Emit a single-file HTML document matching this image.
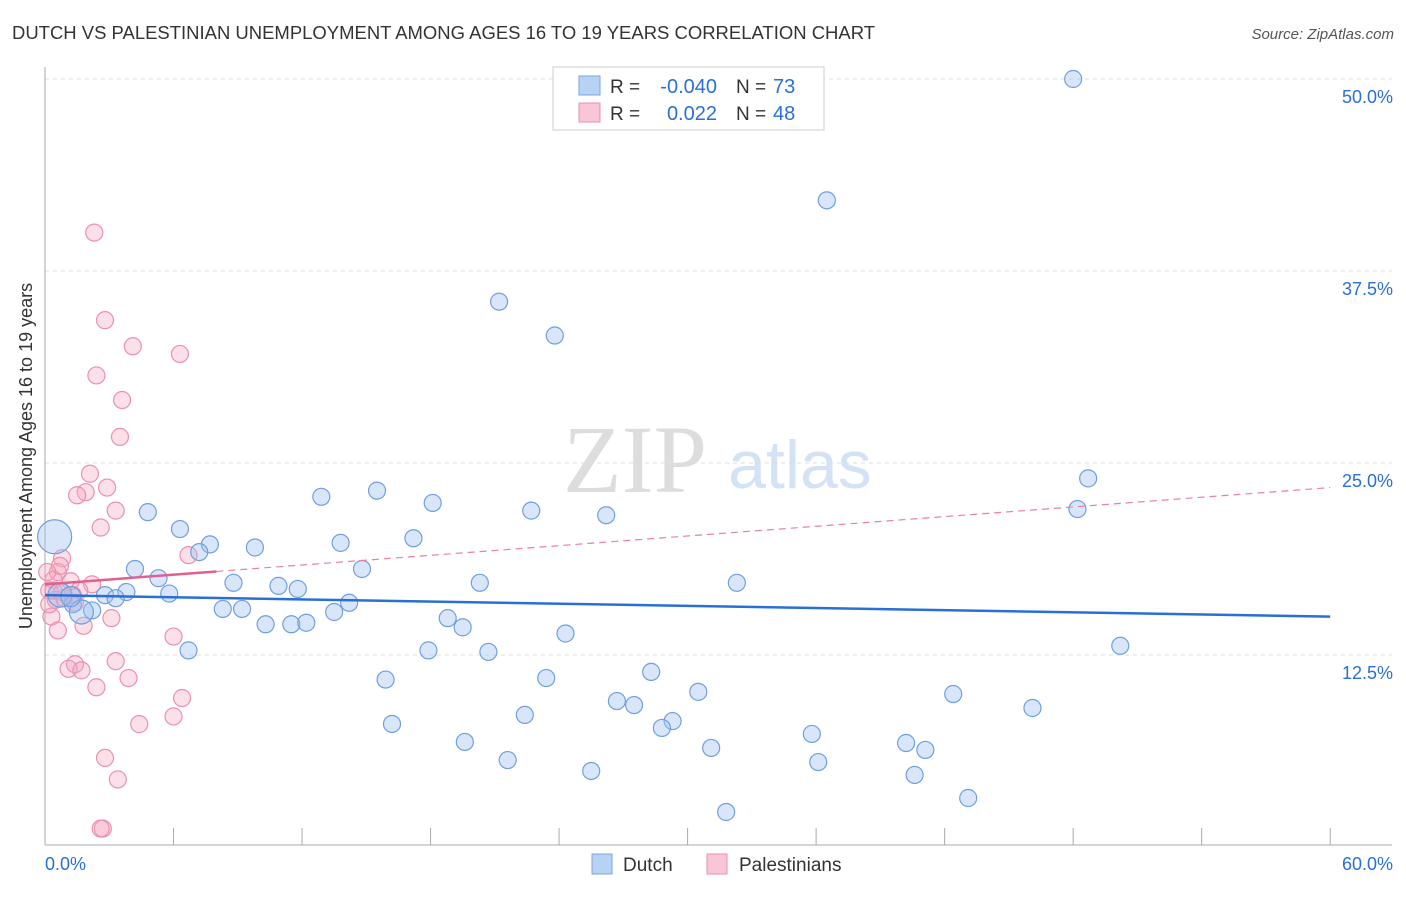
<!DOCTYPE html>
<html><head><meta charset="utf-8"><style>
body{margin:0;background:#fff;font-family:"Liberation Sans",sans-serif}
#c{position:relative;width:1406px;height:892px}
</style></head><body>
<div id="c">
<svg id="s" width="1406" height="892">
<text x="12" y="39" font-size="18" fill="#333" textLength="863" lengthAdjust="spacingAndGlyphs">DUTCH VS PALESTINIAN UNEMPLOYMENT AMONG AGES 16 TO 19 YEARS CORRELATION CHART</text>
<text x="1394" y="39" font-size="15" fill="#555" font-style="italic" text-anchor="end">Source: ZipAtlas.com</text>
<text x="32" y="456" font-size="18" fill="#333" text-anchor="middle" transform="rotate(-90 32 456)">Unemployment Among Ages 16 to 19 years</text>
<text x="635" y="492" font-size="96" fill="#ddd" font-family="Liberation Serif,serif" text-anchor="middle">ZIP</text>
<text x="800" y="488" font-size="68" fill="#d4e2f5" text-anchor="middle">atlas</text>
<g id="grid"></g><g id="pts"></g><g id="lines"></g>
<g>
<rect x="553" y="67" width="271" height="63" fill="#fff" stroke="#ccc"/>
<rect x="579" y="76" width="21" height="19" fill="#b8d2f3" stroke="#7aa6e0"/>
<rect x="579" y="103" width="21" height="19" fill="#f8c6d6" stroke="#ec8fb0"/>
<text x="610" y="93" font-size="19" fill="#333">R =</text>
<text x="717" y="93" font-size="20" fill="#2a6fd6" text-anchor="end">-0.040</text>
<text x="736" y="93" font-size="19" fill="#333">N =</text>
<text x="773" y="93" font-size="20" fill="#2a6fd6">73</text>
<text x="610" y="120" font-size="19" fill="#333">R =</text>
<text x="717" y="120" font-size="20" fill="#2a6fd6" text-anchor="end">0.022</text>
<text x="736" y="120" font-size="19" fill="#333">N =</text>
<text x="773" y="120" font-size="20" fill="#2a6fd6">48</text>
</g>
<g>
<rect x="592" y="854" width="20" height="20" fill="#b8d2f3" stroke="#7aa6e0"/>
<text x="623" y="871" font-size="19" fill="#333">Dutch</text>
<rect x="707" y="854" width="20" height="20" fill="#f8c6d6" stroke="#ec8fb0"/>
<text x="739" y="871" font-size="19" fill="#333">Palestinians</text>
</g>
</svg>
<script>
const yTicks=[12.5,25,37.5,50];
const yTickLabels=["12.5%","25.0%","37.5%","50.0%"];
const xTickLabels=["0.0%","60.0%"];
const dutch=[[48,50],[36.5,42.1],[21.2,35.5],[23.8,33.3],[48.7,24.0],[48.2,22.0],[12.9,22.8],[15.5,23.2],[18.1,22.4],[22.7,21.9],[26.2,21.6],[4.8,21.8],[6.3,20.7],[7.7,19.7],[9.8,19.5],[13.8,19.8],[17.2,20.1],[7.2,19.2],[4.2,18.1],[5.3,17.5],[8.8,17.2],[10.9,17.0],[11.8,16.8],[14.8,18.1],[20.3,17.2],[32.3,17.2],[5.8,16.5],[3.8,16.6],[2.8,16.4],[3.3,16.2],[1.3,15.8],[2.2,15.4],[8.3,15.5],[9.2,15.5],[10.3,14.5],[11.5,14.5],[12.2,14.6],[13.5,15.3],[14.2,15.9],[18.8,14.9],[19.5,14.3],[24.3,13.9],[50.2,13.1],[6.7,12.8],[17.9,12.8],[20.7,12.7],[28.3,11.4],[23.4,11.0],[15.9,10.9],[30.5,10.1],[42.4,9.96],[26.7,9.5],[27.5,9.24],[46.1,9.05],[22.4,8.6],[29.3,8.2],[28.8,7.75],[16.2,8.01],[35.8,7.36],[19.6,6.84],[40.2,6.77],[41.1,6.32],[31.1,6.45],[21.6,5.66],[36.1,5.53],[25.5,4.95],[40.6,4.69],[43.1,3.19],[31.8,2.28],[0.45,20.2],[1.7,15.3],[0.7,16.4],[1.2,16.3]];
const dutchSize=[8.5,8.5,8.5,8.5,8.5,8.5,8.5,8.5,8.5,8.5,8.5,8.5,8.5,8.5,8.5,8.5,8.5,8.5,8.5,8.5,8.5,8.5,8.5,8.5,8.5,8.5,8.5,8.5,8.5,8.5,8.5,8.5,8.5,8.5,8.5,8.5,8.5,8.5,8.5,8.5,8.5,8.5,8.5,8.5,8.5,8.5,8.5,8.5,8.5,8.5,8.5,8.5,8.5,8.5,8.5,8.5,8.5,8.5,8.5,8.5,8.5,8.5,8.5,8.5,8.5,8.5,8.5,8.5,8.5,17,12,12,10];
const pal=[[2.3,40.0],[2.8,34.3],[4.1,32.6],[6.3,32.1],[2.4,30.7],[3.6,29.1],[3.5,26.7],[2.1,24.3],[2.9,23.4],[1.9,23.1],[1.5,22.9],[3.3,21.9],[2.6,20.8],[0.8,18.8],[6.7,19.0],[0.6,17.9],[0.4,17.4],[1.2,17.3],[2.2,17.1],[0.2,16.7],[1.6,16.7],[0.9,16.2],[1.4,15.9],[3.1,14.9],[0.3,15.0],[1.8,14.4],[0.6,14.1],[6.0,13.7],[3.3,12.1],[1.4,11.9],[1.1,11.6],[1.7,11.5],[3.9,11.0],[2.4,10.4],[6.4,9.7],[4.4,8.0],[6.0,8.5],[2.8,5.8],[3.4,4.4],[2.7,1.2],[2.6,1.2],[0.5,16.1],[0.7,18.3],[0.1,17.9],[1.3,16.4],[0.8,16.6],[0.2,15.8],[0.4,16.7]];
const dutchLine=[16.4,15.0];
const palLine=[17.1,8,23.4];
const X=v=>45+v*21.42, Y=v=>847-v*15.36;
const NS="http://www.w3.org/2000/svg";
function mk(t,a,p){const e=document.createElementNS(NS,t);for(const k in a)e.setAttribute(k,a[k]);document.getElementById(p).appendChild(e);return e;}
yTicks.forEach((t,i)=>{
 const l=mk('line',{x1:45,x2:1392,y1:Y(t),y2:Y(t),stroke:'#ddd','stroke-dasharray':'4,4'},'grid');
 
 
 const tx=mk('text',{x:1393,y:Y(t)+24,'font-size':18,fill:'#2a6fd6','text-anchor':'end'},'grid');tx.textContent=yTickLabels[i];
 
 
});
const ax=mk('line',{x1:45,x2:45,y1:67,y2:845,stroke:'#aaa'},'grid');


const bx=mk('line',{x1:45,x2:1392,y1:845,y2:845,stroke:'#aaa'},'grid');


for(let i=0;i<=10;i++){const t=mk('line',{x1:X(i*6),x2:X(i*6),y1:828,y2:845,stroke:'#aaa'},'grid');
 
 }
[[0,'start',45],[60,'end',1393]].forEach((d,i)=>{const t=mk('text',{x:d[2],y:870,'font-size':18,fill:'#2a6fd6','text-anchor':d[1]},'grid');t.textContent=xTickLabels[i];
 
 });
pal.forEach(p=>{const c=mk('circle',{cx:X(p[0]),cy:Y(p[1]),r:8.5,fill:'rgba(245,165,190,0.35)',stroke:'#ec8fb0','stroke-width':1.2},'pts');
 
 });
dutch.forEach((p,i)=>{const c=mk('circle',{cx:X(p[0]),cy:Y(p[1]),r:dutchSize[i],fill:'rgba(160,192,240,0.4)',stroke:'#6f9fe0','stroke-width':1.2},'pts');
 
 });
const dl=mk('line',{x1:X(0),y1:Y(dutchLine[0]),x2:X(60),y2:Y(dutchLine[1]),stroke:'#2a6fd6','stroke-width':2.5},'lines');


const slope=(palLine[2]-palLine[0])/60;
const pd=mk('line',{x1:X(palLine[1]),y1:Y(palLine[0]+slope*palLine[1]),x2:X(60),y2:Y(palLine[2]),stroke:'#e87fa5','stroke-width':1.2,'stroke-dasharray':'7,5'},'lines');


const ps=mk('line',{x1:X(0),y1:Y(palLine[0]),x2:X(palLine[1]),y2:Y(palLine[0]+slope*palLine[1]),stroke:'#e0608f','stroke-width':2.5},'lines');


</script>
</div></body></html>
